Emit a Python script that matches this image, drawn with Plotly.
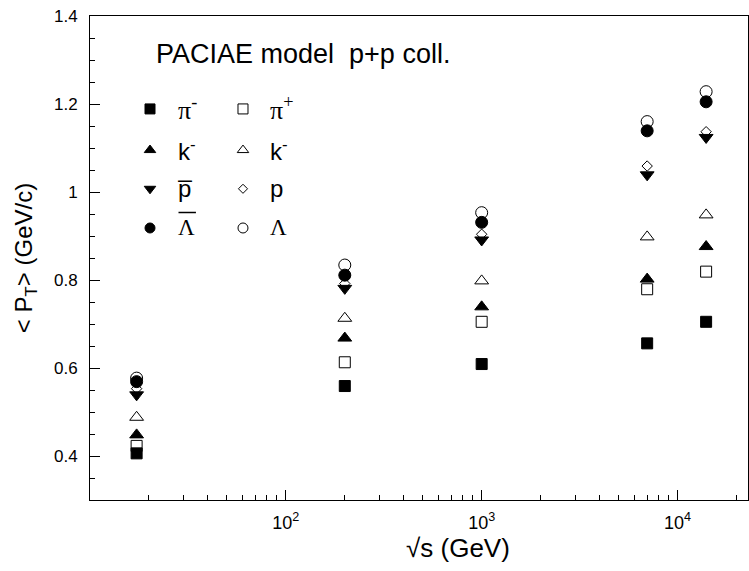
import plotly.graph_objects as go

# ---- data ----
sqrt_s = [17.3, 200, 1000, 7000, 14000]
pi_minus = [0.406, 0.559, 0.609, 0.656, 0.705]
pi_plus = [0.423, 0.613, 0.705, 0.779, 0.819]
k_minus = [0.448, 0.668, 0.739, 0.802, 0.876]
k_plus = [0.488, 0.713, 0.798, 0.898, 0.948]
pbar = [0.539, 0.781, 0.891, 1.039, 1.124]
proton = [0.553, 0.792, 0.904, 1.059, 1.137]
lambdabar = [0.569, 0.811, 0.931, 1.139, 1.205]
lambda_ = [0.577, 0.834, 0.953, 1.160, 1.228]

y_ticks = [0.4, 0.6, 0.8, 1.0, 1.2, 1.4]
y_ticklabels = ["0.4", "0.6", "0.8", "1", "1.2", "1.4"]
x_ticks = [100, 1000, 10000]
x_ticklabels = ["10<sup>2</sup>", "10<sup>3</sup>", "10<sup>4</sup>"]

series = [
    # (values, symbol, size)
    (lambda_, "circle-open", 12),
    (proton, "diamond-open", 8),
    (k_plus, "triangle-up-open", 12),
    (pi_plus, "square-open", 11),
    (lambdabar, "circle", 12),
    (pbar, "triangle-down", 12),
    (k_minus, "triangle-up", 12),
    (pi_minus, "square", 11),
]

fig = go.Figure()
for vals, sym, sz in series:
    fig.add_trace(go.Scatter(
        x=sqrt_s, y=vals, mode="markers",
        marker=dict(symbol=sym, size=sz, color="black",
                    line=dict(color="black", width=1)),
        showlegend=False, hoverinfo="skip"))

# ---- hand-made legend (two columns) in an overlay paper-like axis ----
leg_rows = [0.808, 0.723, 0.643, 0.562]
leg_col_marker = [0.0912, 0.2325]
leg_col_text = [0.130, 0.270]
legend_items = [
    # symbol, size, label, col, row, font family, font size
    ("square", 10, "π<sup>-</sup>", 0, 0, "Liberation Serif", 26),
    ("square-open", 10, "π<sup>+</sup>", 1, 0, "Liberation Serif", 26),
    ("triangle-up", 10, "k<sup>-</sup>", 0, 1, "Liberation Sans", 24),
    ("triangle-up-open", 10, "k<sup>-</sup>", 1, 1, "Liberation Sans", 24),
    ("triangle-down", 10, "p̅", 0, 2, "Liberation Sans", 24),
    ("diamond-open", 7, "p", 1, 2, "Liberation Sans", 24),
    ("circle", 10, "Λ", 0, 3, "Liberation Serif", 23),
    ("circle-open", 10, "Λ", 1, 3, "Liberation Serif", 23),
]
for sym, sz, lab, col, row, fam, fs in legend_items:
    fig.add_trace(go.Scatter(
        x=[leg_col_marker[col]], y=[leg_rows[row]], xaxis="x2", yaxis="y2",
        mode="markers",
        marker=dict(symbol=sym, size=sz, color="black",
                    line=dict(color="black", width=1)),
        showlegend=False, hoverinfo="skip"))
    fig.add_annotation(
        x=leg_col_text[col], y=leg_rows[row], xref="x2", yref="y2",
        text=lab, showarrow=False, xanchor="left", yanchor="middle",
        font=dict(family=fam, size=fs, color="black"))

# overline bar of the anti-Lambda label
fig.add_shape(type="line", xref="x2", yref="y2",
              x0=0.1345, x1=0.161, y0=0.594, y1=0.594,
              line=dict(color="black", width=1.5))

fig.add_annotation(
    x=0.097, y=0.922, xref="paper", yref="paper",
    text="PACIAE model  p+p coll.", showarrow=False,
    xanchor="left", yanchor="middle",
    font=dict(family="Liberation Sans", size=27, color="black"))

# x axis title (placed toward the right like the original)
fig.add_annotation(
    x=0.559, y=-0.099, xref="paper", yref="paper",
    text="√s (GeV)", showarrow=False,
    xanchor="center", yanchor="middle",
    font=dict(family="Liberation Sans", size=26, color="black"))

fig.update_layout(
    width=749, height=571,
    margin=dict(l=90, r=1, t=16, b=71),
    paper_bgcolor="white", plot_bgcolor="white",
    font=dict(family="Liberation Sans", color="black"),
    xaxis=dict(
        type="log", range=[1.0, 4.36],
        tickvals=x_ticks, ticktext=x_ticklabels,
        ticks="inside", ticklen=10, tickwidth=1, tickcolor="black",
        showline=True, linecolor="black", linewidth=1, mirror=True,
        showgrid=False, zeroline=False,
        tickfont=dict(size=18),
        ticklabelstandoff=6,
        minor=dict(ticks="inside", ticklen=5, tickwidth=1, tickcolor="black",
                   tickvals=[20, 30, 40, 50, 60, 70, 80, 90,
                             200, 300, 400, 500, 600, 700, 800, 900,
                             2000, 3000, 4000, 5000, 6000, 7000, 8000, 9000,
                             20000], showgrid=False),
    ),
    yaxis=dict(
        range=[0.3, 1.4],
        tickvals=y_ticks, ticktext=y_ticklabels,
        ticks="inside", ticklen=10, tickwidth=1, tickcolor="black",
        showline=True, linecolor="black", linewidth=1, mirror=True,
        showgrid=False, zeroline=False,
        tickfont=dict(size=17),
        ticklabelstandoff=8,
        minor=dict(ticks="inside", ticklen=5, tickwidth=1, tickcolor="black",
                   dtick=0.05, tick0=0.3, showgrid=False),
        title=dict(text="< P<sub>T</sub>> (GeV/c)", font=dict(size=24), standoff=14),
    ),
    xaxis2=dict(domain=[0, 1], range=[0, 1], overlaying="x", visible=False,
                fixedrange=True),
    yaxis2=dict(domain=[0, 1], range=[0, 1], overlaying="y", visible=False,
                fixedrange=True),
)

fig.write_html("out.html")
